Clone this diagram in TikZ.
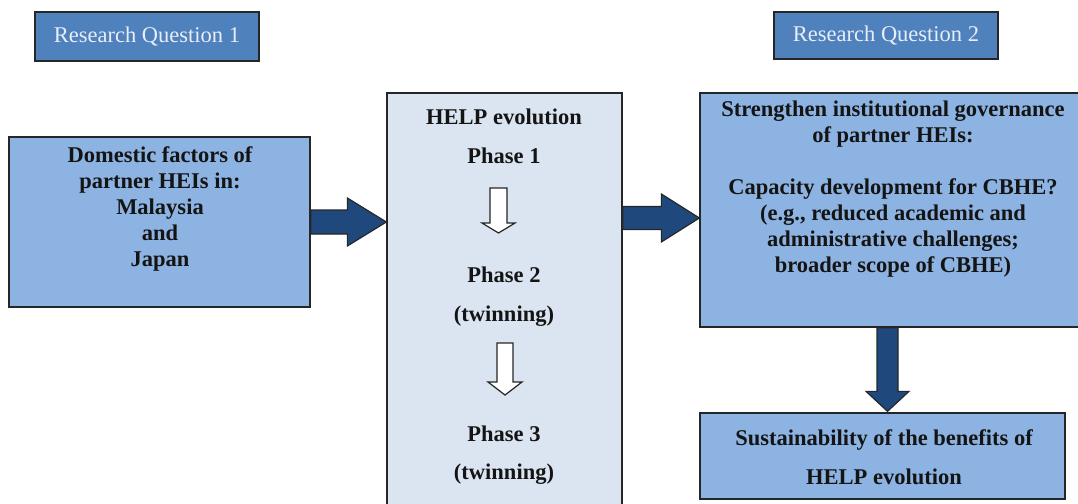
\documentclass[tikz,border=0pt]{standalone}
\usepackage{fontspec}
\setmainfont{Liberation Serif}
\usetikzlibrary{calc}
\definecolor{rqblue}{HTML}{4F81BD}
\definecolor{rqtext}{HTML}{E8EEF7}
\definecolor{boxblue}{HTML}{8DB3E2}
\definecolor{helpfill}{HTML}{DBE5F1}
\definecolor{arrowblue}{HTML}{1F497D}
\definecolor{edge}{HTML}{262626}
\newcommand\blockarrow[6]{%
  \coordinate (ba-s) at #2;
  \coordinate (ba-t) at #3;
  \coordinate (ba-h) at ($(ba-t)!#6!(ba-s)$);
  \draw[#1] ($(ba-s)!#4!90:(ba-t)$) -- ($(ba-h)!#4!90:(ba-t)$) -- ($(ba-h)!#5!90:(ba-t)$) -- (ba-t)
    -- ($(ba-h)!#5!-90:(ba-t)$) -- ($(ba-h)!#4!-90:(ba-t)$) -- ($(ba-s)!#4!-90:(ba-t)$) -- cycle;}
\begin{document}
\begin{tikzpicture}[x=1pt,y=-1pt,
  rq/.style={draw=edge,line width=1.8pt,fill=rqblue,text=rqtext,font=\fontsize{22.5}{26}\selectfont,inner sep=0pt},
  box/.style={draw=edge,line width=1.3pt,inner sep=0pt},
  txt/.style={font=\fontsize{22.5}{26}\selectfont\bfseries,align=center,text=black!92,inner sep=0pt},
  darrow/.style={draw=edge,line width=1.2pt,fill=arrowblue,line join=miter},
  warrow/.style={draw=edge,line width=1.2pt,fill=white,line join=miter}]
\useasboundingbox (0,0) rectangle (1078,503);
% research questions
\node[rq,minimum width=224pt,minimum height=49pt] (rq1) at (147,36.5) {Research Question 1};
\node[rq,minimum width=224pt,minimum height=47pt] (rq2) at (886,35.5) {Research Question 2};
% boxes
\node[box,fill=boxblue,minimum width=301pt,minimum height=170pt] (dom) at (159.5,222) {};
\node[box,fill=helpfill,minimum width=235pt,minimum height=417pt] (help) at (504.5,301.5) {};
\node[box,fill=boxblue,minimum width=382pt,minimum height=234pt] (right) at (891,210) {};
\node[box,fill=boxblue,minimum width=365pt,minimum height=86pt] (bottom) at (882.5,456) {};
% texts
\node[txt] (domtxt) at (160,209) {Domestic factors of\\partner HEIs in:\\Malaysia\\and\\Japan};
\node[txt,anchor=base] (h0) at (504,124) {HELP evolution};
\node[txt,anchor=base] (p1) at (504,163) {Phase 1};
\node[txt,anchor=base] (p2) at (504,282) {Phase 2};
\node[txt,anchor=base] (t2) at (504,321) {(twinning)};
\node[txt,anchor=base] (p3) at (504,441) {Phase 3};
\node[txt,anchor=base] (t3) at (504,479) {(twinning)};
\node[txt] (righttxt) at (893,189) {Strengthen institutional governance\\of partner HEIs:\\[26pt]Capacity development for CBHE?\\(e.g., reduced academic and\\administrative challenges;\\broader scope of CBHE)};
\node[txt,font=\fontsize{22.5}{39.5}\selectfont\bfseries] (bottomtxt) at (884,457) {Sustainability of the benefits of\\HELP evolution};
% arrows
\blockarrow{darrow}{(dom.east)}{(dom.east -| help.west)}{12pt}{24pt}{39pt}
\blockarrow{darrow}{($(help.east|-right.west)+(0,8)$)}{($(right.west)+(0,8)$)}{11.5pt}{24pt}{38pt}
\blockarrow{darrow}{($(right.south)+(-3.5,0)$)}{($(bottom.north -| right.south)+(-3.5,-1)$)}{10.5pt}{21.5pt}{20pt}
\blockarrow{warrow}{($(p1.base)+(-5.5,25)$)}{($(p1.base)+(-5.5,70)$)}{8.5pt}{16.5pt}{10pt}
\blockarrow{warrow}{($(t2.base)+(1,22)$)}{($(t2.base)+(1,74)$)}{8pt}{17pt}{13pt}
\end{tikzpicture}
\end{document}
